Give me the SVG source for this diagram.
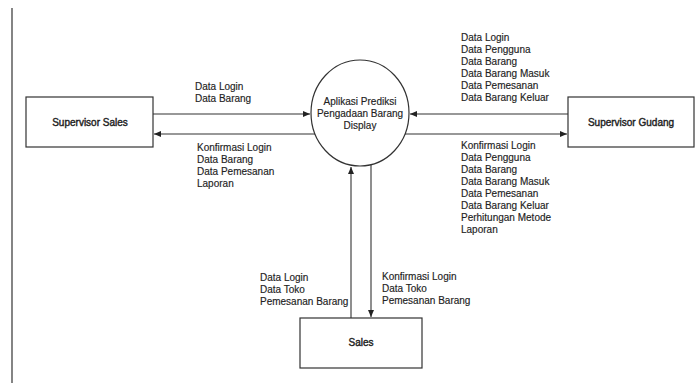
<svg xmlns="http://www.w3.org/2000/svg" width="697" height="383" viewBox="0 0 697 383">
<style>
.t{font-family:"Liberation Sans",Arial,sans-serif;font-size:10px;fill:#222;stroke:#222;stroke-width:0.15}
.c{text-anchor:middle}
.b{stroke-width:0.4}
.box{fill:#fff;stroke:#333;stroke-width:1.2}
.ln{fill:none;stroke:#333;stroke-width:1.1}
</style>
<defs>
<marker id="ah" markerWidth="8" markerHeight="8" refX="7" refY="4" orient="auto" markerUnits="userSpaceOnUse">
<path d="M0,1 L7,4 L0,7 Z" fill="#222"/>
</marker>
</defs>
<rect width="697" height="383" fill="#fff"/>
<line x1="12" y1="8" x2="12" y2="383" stroke="#333" stroke-width="1.2"/>

<g id="connectors">
<line class="ln" x1="153" y1="114" x2="310" y2="114" marker-end="url(#ah)"/>
<line class="ln" x1="315" y1="134" x2="154" y2="134" marker-end="url(#ah)"/>
<line class="ln" x1="568" y1="114" x2="410" y2="114" marker-end="url(#ah)"/>
<line class="ln" x1="405" y1="134" x2="567" y2="134" marker-end="url(#ah)"/>
<line class="ln" x1="351" y1="318" x2="351" y2="167" marker-end="url(#ah)"/>
<line class="ln" x1="371" y1="164" x2="371" y2="317" marker-end="url(#ah)"/>
</g>

<g id="supervisor-sales">
<rect class="box" x="26" y="97" width="127" height="50"/>
<text class="t c b" x="90" y="126">Supervisor Sales</text>
</g>

<g id="aplikasi">
<ellipse cx="360" cy="113" rx="49" ry="53" fill="#fff" stroke="#333" stroke-width="1.2"/>
<text class="t c" x="360" y="105">Aplikasi Prediksi</text>
<text class="t c" x="360" y="117">Pengadaan Barang</text>
<text class="t c" x="360" y="129">Display</text>
</g>

<g id="supervisor-gudang">
<rect class="box" x="568" y="97" width="126" height="50"/>
<text class="t c b" x="631" y="126">Supervisor Gudang</text>
</g>

<g id="sales">
<rect class="box" x="300" y="318" width="122" height="50"/>
<text class="t c b" x="361" y="346">Sales</text>
</g>

<g id="labels">
<text class="t" x="195" y="90">Data Login</text>
<text class="t" x="195" y="102">Data Barang</text>

<text class="t" x="197" y="151">Konfirmasi Login</text>
<text class="t" x="197" y="163">Data Barang</text>
<text class="t" x="197" y="175">Data Pemesanan</text>
<text class="t" x="197" y="187">Laporan</text>

<text class="t" x="461" y="41">Data Login</text>
<text class="t" x="461" y="53">Data Pengguna</text>
<text class="t" x="461" y="65">Data Barang</text>
<text class="t" x="461" y="77">Data Barang Masuk</text>
<text class="t" x="461" y="89">Data Pemesanan</text>
<text class="t" x="461" y="101">Data Barang Keluar</text>

<text class="t" x="461" y="149">Konfirmasi Login</text>
<text class="t" x="461" y="161">Data Pengguna</text>
<text class="t" x="461" y="173">Data Barang</text>
<text class="t" x="461" y="185">Data Barang Masuk</text>
<text class="t" x="461" y="197">Data Pemesanan</text>
<text class="t" x="461" y="209">Data Barang Keluar</text>
<text class="t" x="461" y="221">Perhitungan Metode</text>
<text class="t" x="461" y="233">Laporan</text>

<text class="t" x="260" y="281">Data Login</text>
<text class="t" x="260" y="293">Data Toko</text>
<text class="t" x="260" y="305">Pemesanan Barang</text>

<text class="t" x="382" y="280">Konfirmasi Login</text>
<text class="t" x="382" y="292">Data Toko</text>
<text class="t" x="382" y="304">Pemesanan Barang</text>
</g>
</svg>
